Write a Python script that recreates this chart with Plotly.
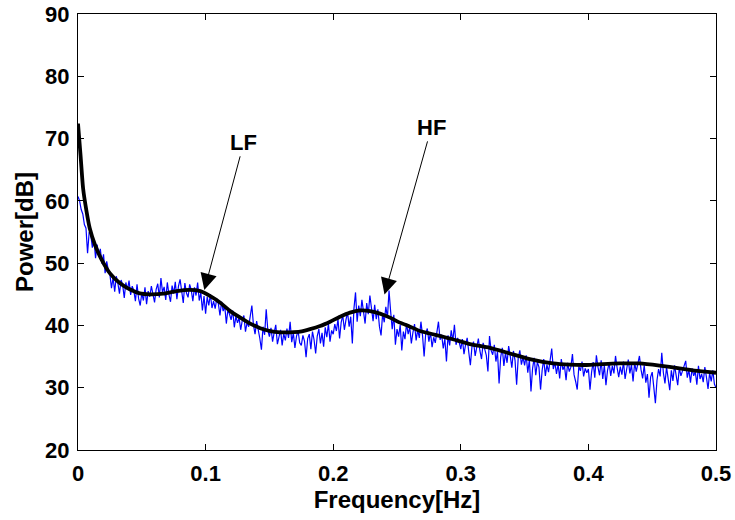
import numpy as np
import plotly.graph_objects as go

# Raw PSD (blue), sampled every 0.00125 Hz from 0 to 0.5 Hz
psd_raw = [
    60.7, 60.0, 58.6, 57.9, 56.2, 55.6, 51.6, 55.0, 54.6, 52.5, 53.8, 50.8, 53.0, 51.2, 52.3, 49.9, 51.4, 48.4, 50.3, 48.9,
    48.2, 46.0, 47.7, 45.4, 47.9, 46.8, 45.1, 47.3, 46.5, 44.4, 46.9, 45.7, 47.2, 44.9, 46.3, 45.6, 43.9, 46.6, 44.3, 43.2,
    45.2, 44.0, 46.1, 43.4, 45.5, 44.6, 46.3, 44.9, 43.7, 45.8, 46.7, 44.5, 47.6, 45.3, 46.2, 44.1, 46.9, 45.0, 43.8, 46.4,
    45.1, 47.0, 44.2, 46.3, 47.4, 45.5, 43.6, 46.8, 45.2, 44.5, 46.6, 45.7, 43.9, 46.1, 44.8, 46.9, 44.0, 45.3, 42.4, 44.7,
    41.9, 44.6, 43.2, 45.0, 42.8, 43.9, 42.7, 44.3, 43.5, 41.6, 43.8, 42.3, 43.1, 40.3, 42.6, 41.8, 40.9, 42.4, 39.7, 41.5,
    40.4, 41.2, 39.3, 40.8, 41.6, 39.0, 40.5, 39.8, 41.3, 43.2, 40.1, 38.6, 40.7, 39.4, 37.9, 36.1, 39.8, 38.5, 42.6, 39.3,
    38.2, 39.6, 37.4, 38.9, 40.1, 37.0, 38.5, 39.3, 36.8, 38.7, 37.6, 39.5, 38.0, 40.6, 37.3, 38.8, 36.4, 38.3, 39.1, 37.2,
    36.8, 38.4, 37.5, 34.9, 37.9, 38.6, 36.2, 39.0, 37.7, 35.5, 38.3, 39.4, 37.1, 38.8, 36.6, 39.7, 38.1, 40.3, 37.4, 39.2,
    38.6, 40.2, 39.1, 41.0, 37.9, 40.5, 41.6, 39.3, 40.9, 42.1, 39.8, 41.4, 37.1, 42.7, 45.3, 40.6, 43.2, 41.5, 44.1, 42.0,
    40.3, 43.6, 41.8, 44.8, 42.2, 40.7, 43.3, 41.0, 42.6, 39.8, 38.4, 41.9, 40.5, 43.0, 41.2, 45.6, 42.3, 39.4, 41.7, 36.9,
    39.4, 38.2, 40.1, 36.0, 39.0, 37.8, 40.3, 38.6, 39.7, 37.1, 38.9, 40.2, 37.6, 39.3, 38.0, 40.6, 38.4, 35.0, 38.7, 39.5,
    37.4, 38.9, 36.5, 38.1, 37.2, 39.0, 40.6, 37.7, 38.5, 36.3, 37.9, 34.2, 38.4, 36.8, 39.2, 37.5, 40.1, 36.9, 38.0, 37.3,
    36.2, 37.8, 35.4, 36.9, 38.0, 35.7, 33.6, 36.6, 37.4, 35.1, 36.8, 37.9, 35.9, 34.6, 37.2, 36.3, 35.2, 32.6, 38.3, 36.0,
    35.3, 36.9, 34.2, 35.8, 30.7, 34.9, 36.4, 33.5, 35.6, 34.0, 36.7, 35.1, 33.2, 35.9, 34.4, 30.5, 34.8, 36.0, 33.7, 34.9,
    33.6, 35.2, 32.4, 34.5, 29.4, 33.1, 34.8, 32.0, 34.1, 33.3, 29.7, 32.8, 34.6, 31.9, 33.7, 32.5, 34.3, 36.3, 33.0, 34.1,
    32.2, 33.8, 31.5, 34.6, 32.9, 33.5, 31.2, 34.0, 32.6, 33.3, 35.4, 32.1, 31.0, 29.7, 33.4, 32.7, 34.2, 31.8, 33.1, 32.4,
    33.0, 29.7, 32.5, 34.1, 31.6, 35.2, 33.3, 32.0, 34.4, 31.4, 33.6, 30.4, 32.8, 34.0, 31.9, 33.5, 32.3, 35.1, 33.2, 31.7,
    33.4, 32.1, 34.2, 31.4, 33.0, 34.5, 32.3, 33.7, 31.0, 34.0, 32.6, 33.8, 35.1, 32.9, 31.5, 33.6, 30.8, 32.2, 28.4, 31.7,
    32.5, 30.1, 27.5, 31.2, 33.0, 31.8, 35.6, 32.4, 30.7, 33.3, 31.5, 29.6, 32.8, 31.1, 33.6, 32.0, 30.4, 33.2, 31.9, 32.7,
    33.4, 34.3, 31.6, 32.9, 30.8, 33.1, 31.9, 32.6, 30.5, 33.5, 31.4, 32.2, 30.9, 33.3, 31.7, 29.8, 32.4, 31.0, 32.8, 30.6, 30.0,
]
freq_raw = np.linspace(0.0, 0.5, len(psd_raw))

# Smoothed (parametric) spectrum (black)
freq_smooth = [0.0, 0.002, 0.004, 0.0067, 0.0092, 0.0132, 0.0184, 0.0249, 0.0327, 0.0405, 0.0484, 0.0562,
               0.0667, 0.0771, 0.0875, 0.0959, 0.1037, 0.1115, 0.1193, 0.1272, 0.135, 0.1428, 0.1506, 0.1584,
               0.1663, 0.1741, 0.1819, 0.1897, 0.1976, 0.2054, 0.2132, 0.221, 0.2289, 0.2367, 0.2445, 0.2523,
               0.2602, 0.268, 0.2758, 0.2915, 0.3071, 0.3228, 0.3384, 0.354, 0.3723, 0.3853, 0.3984, 0.4114,
               0.4245, 0.4401, 0.4558, 0.4714, 0.4871, 0.5]
psd_smooth = [72.4, 67.3, 62.0, 58.3, 55.6, 53.0, 50.6, 48.4, 46.8, 45.8, 45.15, 45.0,
              45.1, 45.5, 45.7, 45.5, 44.7, 43.65, 42.3, 41.25, 40.3, 39.55, 39.1, 38.9,
              38.9, 39.0, 39.4, 39.9, 40.6, 41.4, 42.05, 42.4, 42.3, 41.9, 41.25, 40.45,
              39.8, 39.1, 38.7, 37.9, 37.0, 36.4, 35.5, 34.6, 33.9, 33.7, 33.65, 33.8,
              33.9, 33.9, 33.55, 33.1, 32.65, 32.4]

x_ticks = [0, 0.1, 0.2, 0.3, 0.4, 0.5]
x_ticklabels = ["0", "0.1", "0.2", "0.3", "0.4", "0.5"]
y_ticks = [20, 30, 40, 50, 60, 70, 80, 90]
y_ticklabels = ["20", "30", "40", "50", "60", "70", "80", "90"]

# Annotations: label, tip (x, y), text position (x, y)
ann_labels = ["LF", "HF"]
ann_tip_x = [0.099, 0.2402]
ann_tip_y = [45.67, 44.96]
ann_txt_x = [0.1300, 0.2770]
ann_txt_y = [69.4, 71.8]

FONT = "Liberation Sans, Arial, sans-serif"

fig = go.Figure()
fig.add_trace(go.Scatter(x=freq_raw, y=psd_raw, mode="lines",
                         line=dict(color="#0000FF", width=1.2), showlegend=False))
fig.add_trace(go.Scatter(x=freq_smooth, y=psd_smooth, mode="lines",
                         line=dict(color="black", width=3.8, shape="spline", smoothing=0.6),
                         showlegend=False))

for lab, tx, ty, ax_, ay_ in zip(ann_labels, ann_tip_x, ann_tip_y, ann_txt_x, ann_txt_y):
    fig.add_annotation(x=tx, y=ty, ax=ax_, ay=ay_, xref="x", yref="y", axref="x", ayref="y",
                       text=lab, showarrow=True, arrowhead=2, arrowsize=3.3, arrowwidth=1,
                       arrowcolor="black", standoff=0,
                       font=dict(family=FONT, size=22, color="black", weight="bold"))

axis_common = dict(showline=True, linecolor="black", linewidth=1, mirror="ticks",
                   ticks="inside", ticklen=6, tickwidth=1, tickcolor="black",
                   showgrid=False, zeroline=False, automargin=False,
                   ticklabeloverflow="allow",
                   tickfont=dict(family=FONT, size=22, color="black", weight="bold"))

fig.update_xaxes(range=[0, 0.5], tickvals=x_ticks, ticktext=x_ticklabels, ticklabelstandoff=4,
                 title=dict(text="Frequency[Hz]", font=dict(family=FONT, size=24, color="black", weight="bold"), standoff=0),
                 **axis_common)
fig.update_yaxes(range=[20, 90], tickvals=y_ticks, ticktext=y_ticklabels, ticklabelstandoff=3,
                 title=dict(text="Power[dB]", font=dict(family=FONT, size=24, color="black", weight="bold"), standoff=4),
                 **axis_common)

fig.update_layout(width=735, height=520, margin=dict(l=77.5, r=18.5, t=14, b=70),
                  plot_bgcolor="white", paper_bgcolor="white")

fig.write_html("out.html")
